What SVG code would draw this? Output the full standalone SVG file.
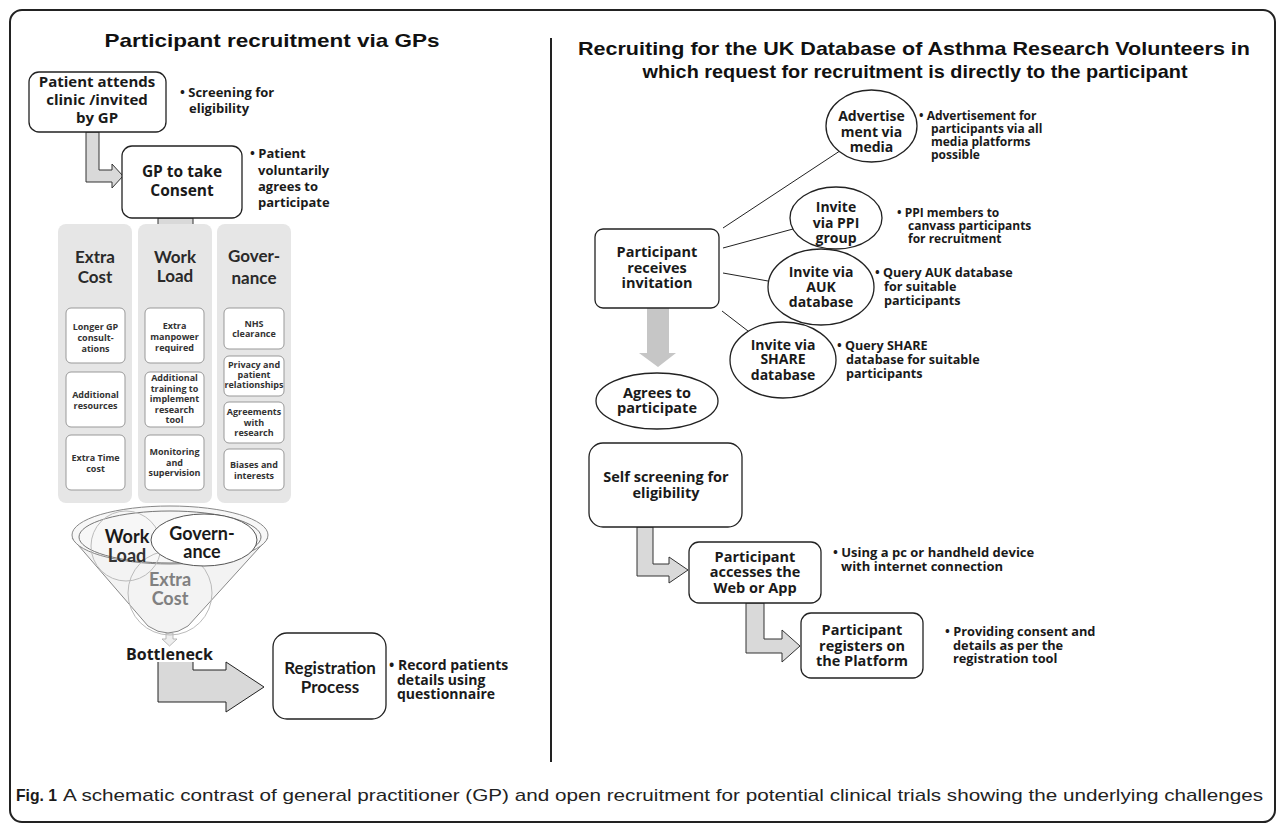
<svg xmlns="http://www.w3.org/2000/svg" width="1281" height="829" viewBox="0 0 1281 829">
<style>
text{font-family:"Open Sans","Liberation Sans",sans-serif;font-weight:bold;fill:#1a1a1a}
.c{text-anchor:middle}
.lato{font-family:Lato,"Liberation Sans",sans-serif}
.title{font-family:"Liberation Sans",Arial,sans-serif;font-size:19px;fill:#111}
.box{fill:#fff;stroke:#222;stroke-width:1.3}
.panel{fill:#e6e6e6;stroke:none}
.sub{fill:#fff;stroke:#999;stroke-width:1}
.sub-t{font-size:9px;fill:#333}
.ptitle{font-family:Lato,"Liberation Sans",sans-serif;font-size:17px;fill:#2a2a2a}
.arr{fill:#d9d9d9;stroke:#333;stroke-width:1}
.line{stroke:#222;stroke-width:1;fill:none}
.bul{font-size:13px}
</style>

<rect x="10" y="10" width="1265" height="812" rx="12" fill="#fff" stroke="#222" stroke-width="2"/>
<line x1="551" y1="38" x2="551" y2="762" stroke="#222" stroke-width="2"/>

<text class="title c" x="272" y="47" textLength="335" lengthAdjust="spacingAndGlyphs">Participant recruitment via GPs</text>
<text class="title c" x="914" y="55" textLength="672" lengthAdjust="spacingAndGlyphs">Recruiting for the UK Database of Asthma Research Volunteers in</text>
<text class="title c" x="915" y="78" textLength="545" lengthAdjust="spacingAndGlyphs">which request for recruitment is directly to the participant</text>

<g id="connectors">
<path class="arr" d="M86,132 L86,182 L112,182 L112,188 L123,176 L112,164 L112,170 L99,170 L99,132 Z"/>
<rect class="arr" x="158" y="218" width="35" height="7"/>
<path d="M158,662 L158,702 L226,702 L226,712 L264,687 L226,662 L226,670 L193,670 L193,662 Z" fill="#d9d9d9"/>
<path class="line" d="M158,662 L158,702 L226,702 L226,712 L264,687 L226,662 L226,670 L193,670 L193,662" stroke="#333"/>
<path d="M166,633 L173,633 L173,639 L177,639 L169.5,646 L162,639 L166,639 Z" fill="#eee" stroke="#aaa" stroke-width="0.8"/>
<line class="line" x1="723" y1="228" x2="839" y2="151.5"/>
<line class="line" x1="723" y1="248" x2="793" y2="229"/>
<line class="line" x1="723" y1="273" x2="768" y2="281"/>
<line class="line" x1="722" y1="311" x2="748" y2="331"/>
<path d="M647,308 L669,308 L669,353 L676,353 L658,367 L639,353 L647,353 Z" fill="#c6c6c6"/>
<path class="arr" d="M637,527 L637,576 L669,576 L669,583 L688,570 L669,557 L669,564 L653,564 L653,527 Z"/>
<path class="arr" d="M746,603 L746,653 L782,653 L782,662 L800,646 L782,630 L782,639 L764,639 L764,603 Z"/>
</g>

<g id="n-patient">
<rect class="box" x="29" y="72" width="137" height="60" rx="10"/>
<text class="c" x="97" y="87" font-size="15">Patient attends</text>
<text class="c" x="97" y="105" font-size="15">clinic /invited</text>
<text class="c" x="97" y="123" font-size="15">by GP</text>
<text class="bul" x="180" y="97">• Screening for</text>
<text class="bul" x="189" y="113">eligibility</text>
</g>

<g id="n-consent">
<rect class="box" x="122" y="146" width="120" height="72" rx="10"/>
<text class="c" x="182" y="177" font-size="15.5">GP to take</text>
<text class="c" x="182" y="196" font-size="15.5">Consent</text>
<text class="bul" x="250" y="158">• Patient</text>
<text class="bul" x="258" y="175">voluntarily</text>
<text class="bul" x="258" y="191">agrees to</text>
<text class="bul" x="258" y="207">participate</text>
</g>

<g id="n-extracost">
<rect class="panel" x="58" y="224" width="74" height="279" rx="8"/>
<text class="ptitle c" x="95" y="263">Extra</text>
<text class="ptitle c" x="95" y="283">Cost</text>
<rect class="sub" x="66" y="308" width="59" height="55" rx="5"/>
<text class="sub-t c" x="95.5" y="330">Longer GP</text>
<text class="sub-t c" x="95.5" y="341">consult-</text>
<text class="sub-t c" x="95.5" y="352">ations</text>
<rect class="sub" x="66" y="372" width="59" height="55" rx="5"/>
<text class="sub-t c" x="95.5" y="398">Additional</text>
<text class="sub-t c" x="95.5" y="409">resources</text>
<rect class="sub" x="66" y="435" width="59" height="55" rx="5"/>
<text class="sub-t c" x="95.5" y="461">Extra Time</text>
<text class="sub-t c" x="95.5" y="472">cost</text>
</g>

<g id="n-workload">
<rect class="panel" x="138" y="224" width="74" height="279" rx="8"/>
<text class="ptitle c" x="175" y="263">Work</text>
<text class="ptitle c" x="175" y="282">Load</text>
<rect class="sub" x="145" y="308" width="59" height="55" rx="5"/>
<text class="sub-t c" x="174.5" y="329">Extra</text>
<text class="sub-t c" x="174.5" y="340">manpower</text>
<text class="sub-t c" x="174.5" y="351">required</text>
<rect class="sub" x="145" y="372" width="59" height="55" rx="5"/>
<text class="sub-t c" x="174.5" y="381">Additional</text>
<text class="sub-t c" x="174.5" y="391.5">training to</text>
<text class="sub-t c" x="174.5" y="402">implement</text>
<text class="sub-t c" x="174.5" y="412.5">research</text>
<text class="sub-t c" x="174.5" y="423">tool</text>
<rect class="sub" x="145" y="435" width="59" height="55" rx="5"/>
<text class="sub-t c" x="174.5" y="455">Monitoring</text>
<text class="sub-t c" x="174.5" y="466">and</text>
<text class="sub-t c" x="174.5" y="476">supervision</text>
</g>

<g id="n-governance">
<rect class="panel" x="217" y="224" width="74" height="279" rx="8"/>
<text class="ptitle c" x="254" y="262" font-size="19">Gover-</text>
<text class="ptitle c" x="254" y="284" font-size="19">nance</text>
<rect class="sub" x="224" y="308" width="60" height="41" rx="5"/>
<text class="sub-t c" x="254" y="327">NHS</text>
<text class="sub-t c" x="254" y="337">clearance</text>
<rect class="sub" x="224" y="356" width="60" height="40" rx="5"/>
<text class="sub-t c" x="254" y="368">Privacy and</text>
<text class="sub-t c" x="254" y="378">patient</text>
<text class="sub-t c" x="254" y="388">relationships</text>
<rect class="sub" x="224" y="402" width="60" height="41" rx="5"/>
<text class="sub-t c" x="254" y="415">Agreements</text>
<text class="sub-t c" x="254" y="426">with</text>
<text class="sub-t c" x="254" y="436">research</text>
<rect class="sub" x="224" y="449" width="60" height="41" rx="5"/>
<text class="sub-t c" x="254" y="468">Biases and</text>
<text class="sub-t c" x="254" y="479">interests</text>
</g>

<g id="n-funnel">
<path d="M72,538 L148,626 Q168,640 188,626 L268,538 Z" fill="#f3f3f3" stroke="#888" stroke-width="1"/>
<ellipse cx="170" cy="535" rx="98" ry="29" fill="#f7f7f7" stroke="#888" stroke-width="1"/>
<ellipse cx="170" cy="537" rx="91" ry="26" fill="none" stroke="#777" stroke-width="1"/>
<circle cx="126" cy="546" r="35" fill="none" stroke="#bbb" stroke-width="1"/>
<circle cx="170" cy="593" r="42" fill="none" stroke="#bbb" stroke-width="1"/>
<ellipse cx="204" cy="540" rx="53" ry="26" fill="#fff" stroke="#555" stroke-width="1"/>
<text class="c lato" x="127" y="543" font-size="18">Work</text>
<text class="c lato" x="127" y="562" font-size="18" style="fill:#333">Load</text>
<text class="c lato" x="202" y="540" font-size="18">Govern-</text>
<text class="c lato" x="202" y="558" font-size="18">ance</text>
<text class="c lato" x="170" y="586" font-size="18" style="fill:#808080">Extra</text>
<text class="c lato" x="170" y="605" font-size="18" style="fill:#808080">Cost</text>
<text x="126" y="660" font-size="16">Bottleneck</text>
</g>

<g id="n-registration">
<rect class="box" x="273" y="633" width="113" height="86" rx="14"/>
<text class="c lato" x="330" y="674" font-size="17">Registration</text>
<text class="c lato" x="330" y="693" font-size="17">Process</text>
<text x="389" y="670" font-size="14">• Record  patients</text>
<text x="397" y="684.5" font-size="14">details using</text>
<text x="397" y="699" font-size="14">questionnaire</text>
</g>

<g id="n-receives">
<rect class="box" x="595" y="229" width="124" height="79" rx="8"/>
<text class="c" x="657" y="257" font-size="14.5">Participant</text>
<text class="c" x="657" y="273" font-size="14.5">receives</text>
<text class="c" x="657" y="288" font-size="14.5">invitation</text>
</g>

<g id="n-advert">
<ellipse class="box" cx="871.5" cy="126" rx="45.5" ry="36"/>
<text class="c" x="871.5" y="121" font-size="14">Advertise</text>
<text class="c" x="871.5" y="137" font-size="14">ment via</text>
<text class="c" x="871.5" y="152" font-size="14">media</text>
<text x="919" y="120" font-size="12">• Advertisement for</text>
<text x="931" y="133" font-size="12">participants via all</text>
<text x="931" y="146" font-size="12">media platforms</text>
<text x="931" y="159" font-size="12">possible</text>
</g>

<g id="n-ppi">
<ellipse class="box" cx="836" cy="218" rx="46" ry="31"/>
<text class="c" x="836" y="212" font-size="14">Invite</text>
<text class="c" x="836" y="228" font-size="14">via PPI</text>
<text class="c" x="836" y="243" font-size="14">group</text>
<text x="897" y="217" font-size="12">• PPI members to</text>
<text x="908" y="230" font-size="12">canvass participants</text>
<text x="908" y="243" font-size="12">for recruitment</text>
</g>

<g id="n-auk">
<ellipse class="box" cx="821" cy="287" rx="53" ry="38"/>
<text class="c" x="821" y="277" font-size="14">Invite via</text>
<text class="c" x="821" y="292" font-size="14">AUK</text>
<text class="c" x="821" y="307" font-size="14">database</text>
<text x="875" y="277" font-size="12.6">• Query AUK database</text>
<text x="884" y="291" font-size="12.6">for suitable</text>
<text x="884" y="304.5" font-size="12.6">participants</text>
</g>

<g id="n-share">
<ellipse class="box" cx="783" cy="360" rx="53" ry="38"/>
<text class="c" x="783" y="350" font-size="14">Invite via</text>
<text class="c" x="783" y="364" font-size="14">SHARE</text>
<text class="c" x="783" y="380" font-size="14">database</text>
<text x="837" y="350" font-size="12.6">• Query SHARE</text>
<text x="846" y="364" font-size="12.6">database for suitable</text>
<text x="846" y="377.5" font-size="12.6">participants</text>
</g>

<g id="n-agrees">
<ellipse class="box" cx="657" cy="401" rx="61" ry="28"/>
<text class="c" x="657" y="398" font-size="14.5">Agrees to</text>
<text class="c" x="657" y="413" font-size="14.5">participate</text>
</g>

<g id="n-self">
<rect class="box" x="589" y="443" width="153" height="84" rx="14"/>
<text class="c" x="666" y="482" font-size="14.5">Self screening for</text>
<text class="c" x="666" y="498" font-size="14.5">eligibility</text>
</g>

<g id="n-access">
<rect class="box" x="689" y="542" width="132" height="61" rx="10"/>
<text class="c" x="755" y="562" font-size="14.5">Participant</text>
<text class="c" x="755" y="577" font-size="14.5">accesses the</text>
<text class="c" x="755" y="593" font-size="14.5">Web or App</text>
<text x="833" y="557" font-size="13">• Using a pc or handheld device</text>
<text x="841" y="571" font-size="13">with internet connection</text>
</g>

<g id="n-register">
<rect class="box" x="801" y="613" width="122" height="65" rx="10"/>
<text class="c" x="862" y="635" font-size="14.5">Participant</text>
<text class="c" x="862" y="651" font-size="14.5">registers on</text>
<text class="c" x="862" y="666" font-size="14.5">the Platform</text>
<text x="945" y="636" font-size="12.8">• Providing consent and</text>
<text x="953" y="649.5" font-size="12.8">details as per the</text>
<text x="953" y="663" font-size="12.8">registration tool</text>
</g>

<g id="caption">
<text x="16" y="801" font-size="17" textLength="41" lengthAdjust="spacingAndGlyphs" style="font-family:'Liberation Sans',sans-serif">Fig. 1</text>
<text x="63" y="801" font-size="17" textLength="1200" lengthAdjust="spacingAndGlyphs" style="font-family:'Liberation Sans',sans-serif;font-weight:normal;fill:#222">A schematic contrast of general practitioner (GP) and open recruitment for potential clinical trials showing the underlying challenges</text>
</g>
</svg>
